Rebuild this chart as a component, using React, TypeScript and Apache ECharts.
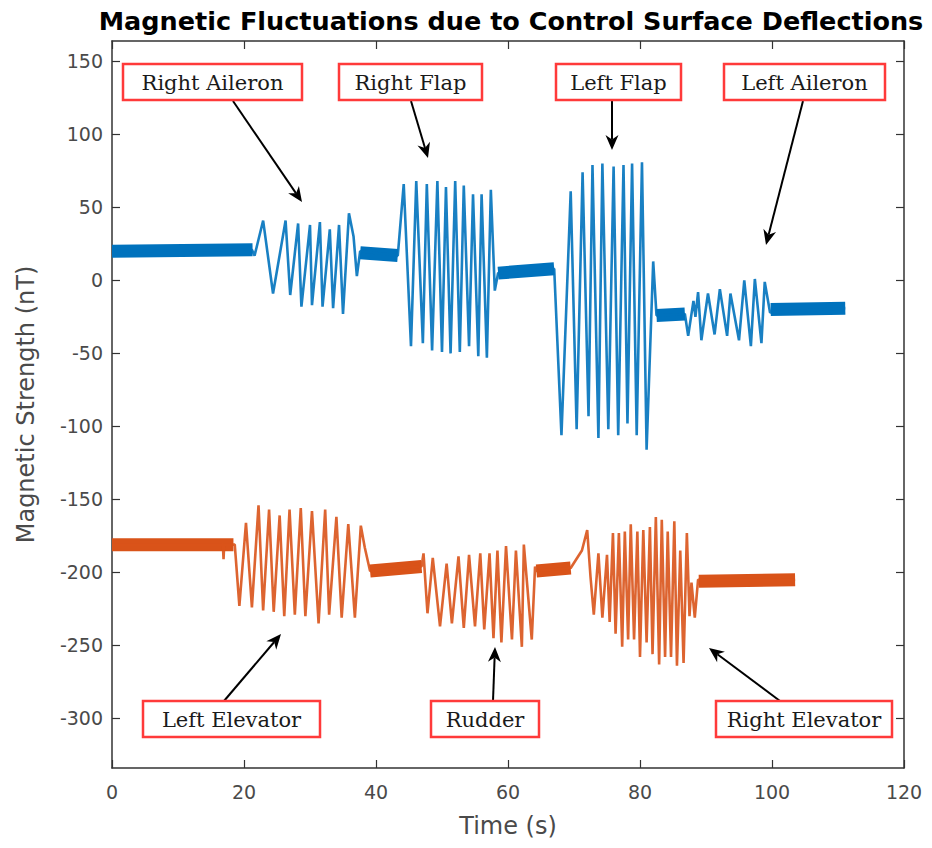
import React, { useEffect, useRef } from "react";
import * as echarts from "echarts";

// ---------- data (time in s, field in nT) ----------
const xTicks = [0, 20, 40, 60, 80, 100, 120];
const yTicks = [-300, -250, -200, -150, -100, -50, 0, 50, 100, 150];

// upper trace (aileron / flap deflections)
const blueSignal: number[][] = [
  [0, 20], [21.2, 21], [21.6, 17], [22.9, 41], [24.4, -9], [26.3, 41], [27.0, -10],
  [28.2, 39], [28.7, -18], [30.0, 38], [30.3, -17], [31.5, 40], [31.9, -18],
  [33.0, 35], [33.5, -19], [34.4, 38], [35.0, -23], [35.9, 46], [36.6, 30],
  [37.1, 3], [37.6, 20], [43.3, 17],
  [44.2, 66], [45.3, -45], [46.1, 68], [47.1, -43], [47.7, 66], [48.5, -48],
  [49.3, 68], [50.0, -49], [50.6, 64], [51.3, -50], [52.0, 68], [52.7, -49],
  [53.3, 65], [54.1, -45], [54.7, 59], [55.5, -52], [56.0, 59], [56.8, -53],
  [57.4, 62], [58.0, -7], [58.5, 5], [67.0, 8],
  [68.1, -106], [69.5, 61], [70.4, -102], [71.3, 74], [72.2, -93], [72.8, 79],
  [73.7, -108], [74.3, 80], [75.2, -102], [76.0, 78], [76.7, -106], [77.5, 79],
  [78.1, -98], [78.8, 80], [79.5, -106], [80.3, 81], [81.0, -116], [82.0, 13],
  [82.5, -24], [86.8, -23],
  [87.3, -38], [88.1, -14], [88.4, -25], [88.8, -8], [89.3, -41], [90.3, -9],
  [91.3, -37], [92.1, -6], [93.2, -38], [93.7, -9], [95.0, -41], [95.8, 0],
  [96.8, -45], [97.4, 1], [98.4, -43], [98.9, -1], [99.7, -22], [111.1, -19],
];
// noisy quiet stretches of the upper trace
const blueQuiet: number[][][] = [
  [[0, 20], [21.3, 21]],
  [[37.6, 19], [43.3, 17]],
  [[58.5, 5], [67.0, 8]],
  [[82.5, -24], [86.8, -23]],
  [[99.8, -20], [111.1, -19]],
];

// lower trace (elevator / rudder deflections)
const orangeSignal: number[][] = [
  [0, -181], [16.8, -181], [16.9, -191], [17.0, -181], [18.6, -181],
  [19.3, -223], [20.3, -166], [21.2, -224], [22.2, -154], [22.9, -226],
  [23.8, -157], [24.5, -227], [25.4, -161], [26.1, -230], [26.9, -157],
  [27.7, -229], [28.6, -156], [29.3, -230], [30.3, -158], [31.3, -235],
  [32.3, -157], [32.9, -229], [34.0, -162], [34.8, -231], [35.8, -167],
  [36.8, -231], [37.7, -168], [38.3, -183], [38.8, -193], [39.1, -199],
  [46.9, -196],
  [47.2, -187], [47.8, -228], [48.6, -190], [49.7, -237], [50.7, -194],
  [51.5, -235], [52.5, -189], [53.3, -238], [54.1, -188], [55.0, -237],
  [55.8, -187], [56.4, -239], [57.2, -187], [57.8, -245], [58.4, -185],
  [59.0, -248], [59.7, -182], [60.6, -246], [61.2, -185], [62.1, -251],
  [62.4, -181], [63.6, -246], [64.1, -196], [64.3, -199], [69.5, -197],
  [71.2, -185], [72.0, -171], [72.5, -203], [73.0, -229], [73.7, -187],
  [74.3, -231], [75.0, -188], [75.4, -234], [75.9, -173], [76.3, -242],
  [76.8, -173], [77.3, -251], [77.7, -172], [78.2, -246], [78.6, -167],
  [79.1, -246], [79.6, -172], [80.0, -258], [80.5, -171], [81.0, -248],
  [81.5, -169], [81.9, -256], [82.4, -162], [82.9, -263], [83.3, -164],
  [83.8, -258], [84.2, -172], [84.7, -258], [85.2, -165], [85.6, -264],
  [86.1, -185], [86.6, -262], [87.1, -173], [87.5, -230], [87.8, -207],
  [88.3, -231], [88.8, -205], [103.5, -205],
];
const orangeQuiet: number[][][] = [
  [[0, -181], [18.4, -181]],
  [[39.1, -199], [46.9, -196]],
  [[64.3, -199], [69.5, -197]],
  [[88.9, -206], [103.5, -205]],
];

// annotation labels
const topLabels = ["Right Aileron", "Right Flap", "Left Flap", "Left Aileron"];
const bottomLabels = ["Left Elevator", "Rudder", "Right Elevator"];

// ---------- layout (pixels) ----------
const BLUE = "#0072BD";
const ORANGE = "#D95319";
const AXIS = "#333333";
const TEXT = "#4a4a4a";

const topBoxes = [
  { x: 123, w: 179, ax: [233, 101, 302, 202] },
  { x: 339, w: 143, ax: [411, 101, 428, 158] },
  { x: 556, w: 125, ax: [612, 101, 612, 150] },
  { x: 724, w: 161, ax: [803, 101, 766, 245] },
];
const bottomBoxes = [
  { x: 143, w: 177, ax: [224, 701, 281, 634] },
  { x: 431, w: 108, ax: [493, 701, 495, 647] },
  { x: 716, w: 176, ax: [780, 701, 709, 648] },
];

function arrow(x1: number, y1: number, x2: number, y2: number) {
  const dx = x2 - x1;
  const dy = y2 - y1;
  const L = Math.hypot(dx, dy);
  const ux = dx / L;
  const uy = dy / L;
  const hl = 15;
  const hw = 6.5;
  const bx = x2 - ux * hl;
  const by = y2 - uy * hl;
  const nx = x2 - ux * hl * 0.7;
  const ny = y2 - uy * hl * 0.7;
  return [
    {
      type: "line",
      z: 10,
      shape: { x1, y1, x2: nx, y2: ny },
      style: { stroke: "#000", lineWidth: 2 },
    },
    {
      type: "polygon",
      z: 10,
      shape: {
        points: [
          [x2, y2],
          [bx - uy * hw, by + ux * hw],
          [nx, ny],
          [bx + uy * hw, by - ux * hw],
        ],
      },
      style: { fill: "#000" },
    },
  ];
}

function labelBox(text: string, x: number, y: number, w: number, h: number) {
  return [
    {
      type: "rect",
      z: 10,
      shape: { x, y, width: w, height: h },
      style: { fill: "#ffffff", stroke: "#ff3a3a", lineWidth: 2.5 },
    },
    {
      type: "text",
      z: 11,
      x: x + w / 2,
      y: y + h / 2 + 1,
      style: {
        text,
        font: '21px "DejaVu Serif"',
        fill: "#1a1a1a",
        align: "center",
        verticalAlign: "middle",
      },
    },
  ];
}

export default function App() {
  const ref = useRef<HTMLDivElement>(null);

  useEffect(() => {
    if (!ref.current) return;
    const chart = echarts.init(ref.current, null, { renderer: "svg" });

    const graphics: any[] = [];
    topBoxes.forEach((b, i) => {
      graphics.push(...arrow(b.ax[0], b.ax[1], b.ax[2], b.ax[3]));
      graphics.push(...labelBox(topLabels[i], b.x, 64, b.w, 36));
    });
    bottomBoxes.forEach((b, i) => {
      graphics.push(...arrow(b.ax[0], b.ax[1], b.ax[2], b.ax[3]));
      graphics.push(...labelBox(bottomLabels[i], b.x, 701, b.w, 36));
    });

    const quietSeries = (segs: number[][][], color: string) =>
      segs.map((d) => ({
        type: "line",
        data: d,
        showSymbol: false,
        symbol: "none",
        silent: true,
        z: 3,
        lineStyle: { color, width: 13, cap: "butt", opacity: 1 },
      }));

    const axisFont = { fontFamily: "DejaVu Sans", fontSize: 19, color: TEXT };
    const axLine = { show: true, onZero: false, lineStyle: { color: AXIS, width: 1.5 } };

    chart.setOption({
      animation: false,
      backgroundColor: "#ffffff",
      title: {
        text: "Magnetic Fluctuations due to Control Surface Deflections",
        left: 506,
        top: 3,
        textAlign: "center",
        textStyle: {
          fontFamily: "DejaVu Sans",
          fontWeight: "bold",
          fontSize: 25.5,
          color: "#000",
        },
      },
      grid: { left: 112, right: 28, top: 41, bottom: 80, containLabel: false },
      xAxis: [
        {
          type: "value",
          min: 0,
          max: 120,
          interval: 20,
          name: "Time (s)",
          nameLocation: "middle",
          nameGap: 46,
          nameTextStyle: { fontFamily: "DejaVu Sans", fontSize: 24, color: TEXT },
          axisLine: axLine,
          axisTick: { show: true, inside: true, length: 8, lineStyle: { color: AXIS, width: 1.2 } },
          axisLabel: { ...axisFont, margin: 14, customValues: xTicks },
          splitLine: { show: false },
        },
        {
          type: "value",
          position: "top",
          min: 0,
          max: 120,
          interval: 20,
          axisLine: axLine,
          axisTick: { show: true, inside: true, length: 8, lineStyle: { color: AXIS, width: 1.2 } },
          axisLabel: { show: false },
          splitLine: { show: false },
        },
      ],
      yAxis: [
        {
          type: "value",
          min: -334,
          max: 164,
          name: "Magnetic Strength (nT)",
          nameLocation: "middle",
          nameGap: 74,
          nameTextStyle: { fontFamily: "DejaVu Sans", fontSize: 24, color: TEXT },
          axisLine: axLine,
          axisTick: {
            show: true,
            inside: true,
            length: 8,
            customValues: yTicks,
            lineStyle: { color: AXIS, width: 1.2 },
          },
          axisLabel: { ...axisFont, margin: 9, customValues: yTicks },
          splitLine: { show: false },
        },
        {
          type: "value",
          position: "right",
          min: -334,
          max: 164,
          axisLine: axLine,
          axisTick: {
            show: true,
            inside: true,
            length: 8,
            customValues: yTicks,
            lineStyle: { color: AXIS, width: 1.2 },
          },
          axisLabel: { show: false },
          splitLine: { show: false },
        },
      ],
      series: [
        {
          type: "line",
          name: "upper",
          data: blueSignal,
          showSymbol: false,
          symbol: "none",
          z: 4,
          lineStyle: { color: BLUE, width: 2.6, opacity: 0.9 },
        },
        ...quietSeries(blueQuiet, BLUE),
        {
          type: "line",
          name: "lower",
          data: orangeSignal,
          showSymbol: false,
          symbol: "none",
          z: 4,
          lineStyle: { color: ORANGE, width: 2.6, opacity: 0.9 },
        },
        ...quietSeries(orangeQuiet, ORANGE),
      ],
      graphic: graphics,
    });

    return () => chart.dispose();
  }, []);

  return (
    <div
      ref={ref}
      style={{ position: "fixed", left: 0, top: 0, width: 932, height: 848, background: "#fff" }}
    />
  );
}
